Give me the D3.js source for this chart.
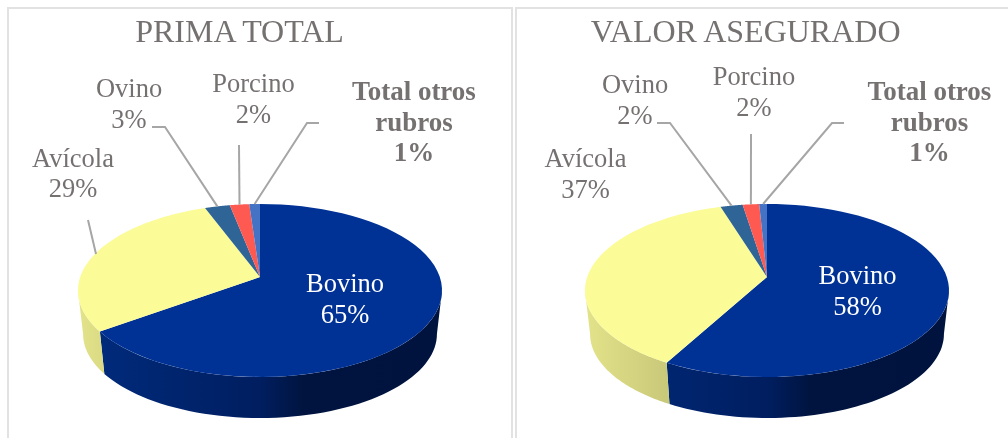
<!DOCTYPE html>
<html><head><meta charset="utf-8">
<script src="https://cdn.jsdelivr.net/npm/d3@7"></script>
<style>html,body{margin:0;padding:0;background:#fff}svg{display:block}</style>
</head><body>
<script>
const categories = ["Bovino","Avícola","Ovino","Porcino","Total otros rubros"];
const primaTotal = [65, 29.3, 2.6, 2.0, 1.1];
const valorAsegurado = [58, 37.2, 2.3, 1.7, 0.8];
const primaLabels = ["65%","29%","3%","2%","1%"];
const valorLabels = ["58%","37%","2%","2%","1%"];

const W = 1008, H = 438;
const colors = ["#003296","#FBFB98","#2F6496","#FF5A52","#4472C4"];
const wallStops = [
  [[0,"#002C7E"],[.5,"#001E60"],[.62,"#00143F"],[1,"#00133F"]],
  [[0,"#E3E38A"],[.22,"#C9C97A"],[1,"#C9C97A"]]
];
const textColor = "#767171", leaderColor = "#A6A6A6";
const k = 0.156, R = 179.8, h = 84.4, apexY = 277, botScale = 0.972, botY = 320.8;

const layouts = [
 {cx:260, title:"PRIMA TOTAL", titleX:239.5, values:primaTotal, labels:primaLabels,
  text:[{x:345,y:292},{x:73,y:166.5},{x:129,y:97},{x:253.5,y:92},{x:414,y:100}],
  leaders:[null,[[88,220]],[[152,127],[165,127]],[[239,145]],[[319,123],[307,123]]],
  ends:[null,[96,254],null,null,null]},
 {cx:767, title:"VALOR ASEGURADO", titleX:745.7, values:valorAsegurado, labels:valorLabels,
  text:[{x:857.5,y:284},{x:585.5,y:167},{x:635,y:93},{x:754,y:85},{x:929.5,y:100}],
  leaders:[null,null,[[657,123],[670,123]],[[751,134]],[[844,123],[832,123]]],
  ends:[null,null,null,null,null]}
];

const svg = d3.select("body").append("svg").attr("width",W).attr("height",H).attr("viewBox",[0,0,W,H]);
const defs = svg.append("defs");
const frame = svg.append("g").attr("fill","none").attr("stroke","#E2E2E2").attr("stroke-width",2);
frame.append("path").attr("d","M8,438V8H512V438");
frame.append("path").attr("d","M516,438V8H1008");

const pie = d3.pie().sort(null).value(d=>d);
const line = d3.line();
function proj(cx,a,bottom){
  const X=Math.sin(a),Y=Math.cos(a),w=1+k*Y,s=bottom?botScale:1,y0=bottom?botY:apexY;
  return [cx+s*R*X/w, y0-s*h*Y/w];
}
function angles(a0,a1){ return d3.range(0,61).map(i=>a0+(a1-a0)*i/60); }

layouts.forEach((L,ci)=>{
  const g = svg.append("g").style("filter","blur(0.35px)");
  const arcs = pie(L.values);
  // walls: visible from one silhouette tangent to the other
  const lo = Math.acos(-k), hi = 2*Math.PI-lo;
  arcs.forEach((d,i)=>{
    const a0=Math.max(d.startAngle,lo), a1=Math.min(d.endAngle,hi);
    if(a1<=a0 || i>1) return;
    const top=angles(a0,a1).map(a=>proj(L.cx,a,false));
    const bot=angles(a0,a1).map(a=>proj(L.cx,a,true)).reverse();
    const id="w"+ci+"_"+i;
    const gr=defs.append("linearGradient").attr("id",id).attr("gradientUnits","userSpaceOnUse")
      .attr("x1",L.cx-182).attr("x2",L.cx+182).attr("y1",0).attr("y2",0);
    wallStops[i].forEach(s=>gr.append("stop").attr("offset",s[0]).attr("stop-color",s[1]));
    g.append("path").attr("d",line(top.concat(bot))+"Z").attr("fill",`url(#${id})`);
  });
  // top faces
  arcs.forEach((d,i)=>{
    const pts=[[L.cx,apexY]].concat(angles(d.startAngle,d.endAngle).map(a=>proj(L.cx,a,false)));
    g.append("path").attr("d",line(pts)+"Z").attr("fill",colors[i]);
  });
  // leaders
  arcs.forEach((d,i)=>{
    if(!L.leaders[i]) return;
    const end=L.ends[i]||proj(L.cx,(d.startAngle+d.endAngle)/2,false);
    g.append("path").attr("d",line(L.leaders[i].concat([end]))).attr("fill","none")
      .attr("stroke",leaderColor).attr("stroke-width",2);
  });
  // title
  g.append("text").attr("x",L.titleX).attr("y",41.5).attr("text-anchor","middle")
    .attr("font-family","'Liberation Serif'").attr("font-size",32).attr("fill",textColor).text(L.title);
  // labels
  categories.forEach((c,i)=>{
    const bold=i===4;
    const rows=bold?["Total otros","rubros",L.labels[i]]:[c,L.labels[i]];
    const t=g.append("text").attr("text-anchor","middle").attr("font-family","'Liberation Serif'")
      .attr("font-size",bold?27:26.5).attr("font-weight",bold?"bold":"normal").attr("fill",i===0?"#FFFFFF":textColor);
    rows.forEach((r,j)=>t.append("tspan").attr("x",L.text[i].x).attr("y",L.text[i].y+j*30.7).text(r));
  });
});
</script>
</body></html>
